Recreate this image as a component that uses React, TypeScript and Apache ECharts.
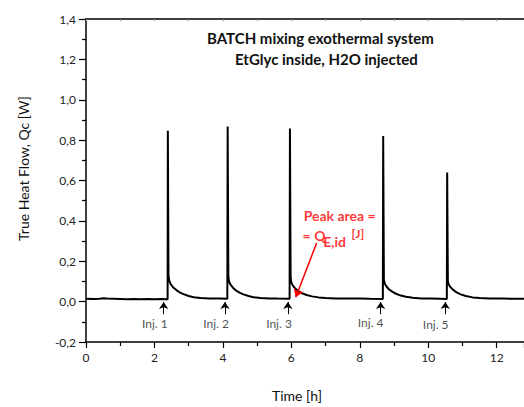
import React, { useEffect, useRef } from "react";
import * as echarts from "echarts";

// Time [h] and true heat flow Qc [W]
const timeH: number[] = [
  0, 0.2, 0.4, 0.5, 0.6, 0.8, 1.0, 1.2, 1.4, 1.6, 1.8, 2.0, 2.2, 2.385,
  2.39, 2.392, 2.405, 2.41, 2.43, 2.47, 2.55, 2.65, 2.75, 2.85, 3.0, 3.15, 3.35, 3.6, 3.9, 4.13,
  4.135, 4.14, 4.155, 4.16, 4.18, 4.22, 4.3, 4.4, 4.5, 4.6, 4.75, 4.9, 5.1, 5.35, 5.6, 5.95,
  5.955, 5.96, 5.975, 5.98, 6.0, 6.05, 6.13, 6.23, 6.33, 6.45, 6.6, 6.8, 7.0, 7.3, 7.6, 8.0, 8.3, 8.675,
  8.68, 8.685, 8.7, 8.705, 8.73, 8.78, 8.86, 8.96, 9.06, 9.2, 9.35, 9.55, 9.8, 10.1, 10.35, 10.545,
  10.55, 10.555, 10.57, 10.575, 10.6, 10.65, 10.73, 10.83, 10.95, 11.1, 11.3, 11.5, 11.8, 12.2, 12.5, 12.8,
];
const heatFlow: number[] = [
  0.014, 0.013, 0.014, 0.017, 0.015, 0.014, 0.013, 0.012, 0.013, 0.012, 0.013, 0.012, 0.013, 0.012,
  0.012, 0.846, 0.846, 0.13, 0.105, 0.088, 0.07, 0.056, 0.045, 0.037, 0.028, 0.022, 0.018, 0.016, 0.015, 0.014,
  0.014, 0.868, 0.868, 0.125, 0.1, 0.085, 0.068, 0.053, 0.043, 0.036, 0.028, 0.022, 0.018, 0.016, 0.015, 0.014,
  0.013, 0.858, 0.858, 0.12, 0.095, 0.078, 0.062, 0.05, 0.04, 0.033, 0.026, 0.021, 0.018, 0.016, 0.015, 0.015, 0.014, 0.013,
  0.013, 0.82, 0.82, 0.11, 0.09, 0.075, 0.06, 0.048, 0.039, 0.03, 0.024, 0.019, 0.016, 0.015, 0.014, 0.013,
  0.013, 0.64, 0.64, 0.1, 0.085, 0.072, 0.058, 0.046, 0.036, 0.028, 0.021, 0.018, 0.016, 0.015, 0.014, 0.014,
];

// Injection markers
const injNames: string[] = ["Inj. 1", "Inj. 2", "Inj. 3", "Inj. 4", "Inj. 5"];
const injArrowX: number[] = [2.27, 4.06, 5.9, 8.61, 10.5];
const injArrowFrom = -0.062;
const injArrowTo = -0.002;
const injLabelX: number[] = [2.01, 3.8, 5.64, 8.32, 10.22];
const injLabelY: number[] = [-0.106, -0.106, -0.106, -0.103, -0.115];

// Peak-area annotation
const annotArrowFrom: number[] = [6.74, 0.29];
const annotArrowTo: number[] = [6.13, 0.022];
const annotLine1 = { x: 6.36, y: 0.429, text: "Peak area =" };
const annotLine2 = { x: 6.33, y: 0.33, text: "= Q" };
const annotSub = { x: 6.93, y: 0.3, text: "E,id" };
const annotUnit = { x: 7.76, y: 0.336, text: "[J]" };

const titleLines: string[] = ["BATCH mixing exothermal system", "EtGlyc inside, H2O injected"];

const FONT = "Lato";

export default function App() {
  const ref = useRef<HTMLDivElement>(null);

  useEffect(() => {
    if (!ref.current) return;
    const chart = echarts.init(ref.current, undefined, { renderer: "svg" });
    const lineData = timeH.map((t, i) => [t, heatFlow[i]]);
    const fmtDec = (v: number) => (Math.abs(v) < 1e-9 ? 0 : v).toFixed(1).replace(".", ",");

    const redLabel = (d: { x: number; y: number; text: string }, size: number) => ({
      type: "scatter",
      silent: true,
      symbolSize: 0,
      data: [[d.x, d.y, d.text]],
      label: {
        show: true,
        position: "right",
        distance: 0,
        formatter: (p: any) => p.value[2],
        color: "#ff0000",
        fontFamily: FONT,
        fontWeight: "bold",
        fontSize: size,
      },
      z: 5,
    });

    chart.setOption({
      animation: false,
      backgroundColor: "#ffffff",
      textStyle: { fontFamily: FONT },
      title: [
        {
          text: titleLines[0],
          left: 207,
          top: 30,
          textStyle: { fontFamily: FONT, fontWeight: "bold", fontSize: 15, color: "#111" },
          padding: 0,
        },
        {
          text: titleLines[1],
          left: 235,
          top: 51,
          textStyle: { fontFamily: FONT, fontWeight: "bold", fontSize: 15, color: "#111" },
          padding: 0,
        },
      ],
      grid: { left: 86, top: 19, right: 0, bottom: 62, containLabel: false },
      xAxis: [
        {
          type: "value",
          min: 0,
          max: 12.8,
          interval: 2,
          name: "Time [h]",
          nameLocation: "middle",
          nameGap: 46,
          nameTextStyle: { fontFamily: FONT, fontSize: 14, color: "#111", padding: [0, 16, 0, 0] },
          axisLine: { show: true, onZero: false, lineStyle: { color: "#000", width: 1.5 } },
          axisTick: { show: true, inside: false, length: 6, lineStyle: { color: "#000", width: 1.2 } },
          minorTick: { show: true, splitNumber: 2, length: 4, lineStyle: { color: "#000", width: 1.2 } },
          axisLabel: { showMaxLabel: false, margin: 9, fontFamily: FONT, fontSize: 12, color: "#222" },
          splitLine: { show: false },
          minorSplitLine: { show: false },
        },
        {
          type: "value",
          position: "top",
          min: 0,
          max: 12.8,
          interval: 1,
          axisLine: { show: true, onZero: false, lineStyle: { color: "#000", width: 1.5 } },
          axisTick: { show: true, inside: true, length: 2, lineStyle: { color: "#888", width: 1 } },
          axisLabel: { show: false },
          splitLine: { show: false },
        },
      ],
      yAxis: {
        type: "value",
        min: -0.2,
        max: 1.4,
        interval: 0.2,
        name: "True Heat Flow, Qc [W]",
        nameLocation: "middle",
        nameGap: 56,
        nameTextStyle: { fontFamily: FONT, fontSize: 14, color: "#111", padding: [0, 0, 0, 24] },
        axisLine: { show: true, onZero: false, lineStyle: { color: "#000", width: 1.5 } },
        axisTick: { show: true, inside: false, length: 7, lineStyle: { color: "#000", width: 1.2 } },
        minorTick: { show: true, splitNumber: 2, length: 4, lineStyle: { color: "#000", width: 1.2 } },
        axisLabel: { margin: 10, fontFamily: FONT, fontSize: 12, color: "#222", formatter: fmtDec },
        splitLine: { show: false },
        minorSplitLine: { show: false },
      },
      series: [
        {
          type: "line",
          data: lineData,
          showSymbol: false,
          symbol: "none",
          lineStyle: { color: "#000", width: 2 },
          clip: true,
          z: 3,
          markLine: {
            silent: true,
            symbol: ["none", "arrow"],
            symbolSize: 7,
            label: { show: false },
            lineStyle: { color: "#000", width: 1, type: "solid" },
            data: injArrowX.map((x) => [
              { coord: [x, injArrowFrom] },
              { coord: [x, injArrowTo] },
            ]),
          },
        },
        {
          type: "line",
          data: [],
          silent: true,
          markLine: {
            silent: true,
            symbol: ["none", "arrow"],
            symbolSize: 8,
            label: { show: false },
            lineStyle: { color: "#ff0000", width: 1.5, type: "solid" },
            data: [[{ coord: annotArrowFrom }, { coord: annotArrowTo }]],
          },
        },
        {
          type: "scatter",
          silent: true,
          symbolSize: 0,
          data: injLabelX.map((x, i) => [x, injLabelY[i], injNames[i]]),
          label: {
            show: true,
            position: "inside",
            formatter: (p: any) => p.value[2],
            color: "#222",
            fontFamily: FONT,
            fontSize: 12,
          },
        },
        redLabel(annotLine1, 14),
        redLabel(annotLine2, 14),
        redLabel(annotSub, 14),
        redLabel(annotUnit, 12),
      ],
    });

    return () => chart.dispose();
  }, []);

  return (
    <div
      ref={ref}
      style={{ position: "absolute", left: 0, top: 0, width: 524, height: 407 }}
    />
  );
}
